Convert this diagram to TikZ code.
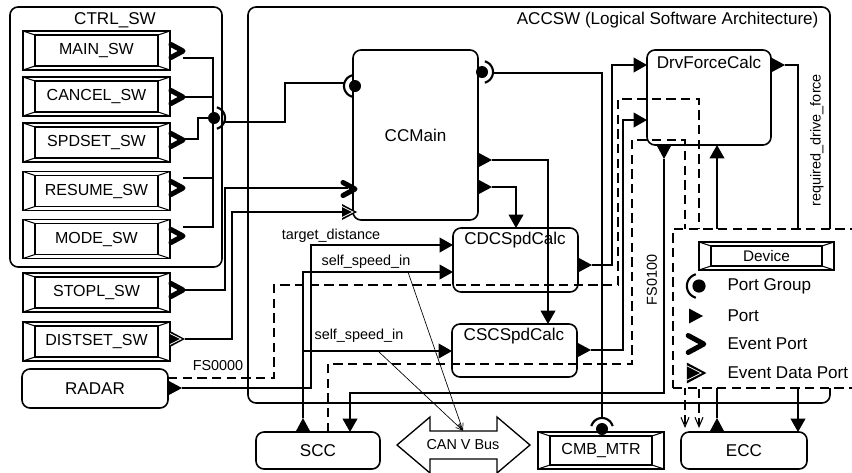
\documentclass[tikz,border=0pt]{standalone}
\usepackage{fontspec}
\setmainfont{Liberation Sans}
\usetikzlibrary{arrows.meta}
\newcommand{\bigf}{\fontsize{12.8}{14}\selectfont}
\newcommand{\devf}{\fontsize{12}{14}\selectfont}
\newcommand{\smallf}{\fontsize{10.8}{12}\selectfont}
\newcommand{\dvf}{\fontsize{11.5}{13}\selectfont}
\tikzset{
  ln/.style={line width=1.2pt},
  box/.style={draw, line width=1.2pt, rounded corners=6pt, inner sep=0pt, font=\bigf},
  devbox/.style={draw, line width=1.2pt, inner sep=0pt, font=\devf,
    path picture={
      \draw[line width=1.1pt] ([shift={(9pt,-3pt)}]path picture bounding box.north west) rectangle ([shift={(-9pt,3pt)}]path picture bounding box.south east);
      \draw[line width=0.8pt]
        (path picture bounding box.north west) -- ([shift={(9pt,-3pt)}]path picture bounding box.north west)
        (path picture bounding box.south west) -- ([shift={(9pt,3pt)}]path picture bounding box.south west)
        (path picture bounding box.north east) -- ([shift={(-9pt,-3pt)}]path picture bounding box.north east)
        (path picture bounding box.south east) -- ([shift={(-9pt,3pt)}]path picture bounding box.south east);
    }},
  swdev/.style={devbox, minimum width=110.25pt, minimum height=29.25pt},
  parr/.style={line width=1.2pt, -{Triangle[length=10pt,width=11pt]}},
  fsline/.style={line width=1.1pt, dash pattern=on 7pt off 4pt, -{Straight Barb[length=7pt,width=6pt,line width=0.8pt]}},
  thinarr/.style={line width=0.5pt, -{Straight Barb[length=5pt,width=4pt]}},
  lbl/.style={font=\smallf, inner sep=1pt},
  title/.style={font=\bigf, inner sep=1pt},
  portR/.pic={\fill (0,-7.5) -- (14,0) -- (0,7.5) -- cycle;},
  portD/.pic={\fill (-7.5,0) -- (0,14) -- (7.5,0) -- cycle;},
  portU/.pic={\fill (-7.5,0) -- (0,-14) -- (7.5,0) -- cycle;},
  evport/.pic={\draw[line width=3.8pt, line cap=round, line join=round] (-6,-6.5) -- (6,0) -- (-6,6.5);},
  edport/.pic={\fill (-7,-8) -- (8,0) -- (-7,8) -- cycle;
    \draw[white, line width=0.6pt] (-7,-5.5) -- (4,0) -- (-7,5.5);},
  pgL/.pic={\fill (0,0) circle[radius=4.5pt];
    \draw[line width=1.6pt, variable=\t, domain=105:255, samples=24] plot ({11*cos(\t)},{11*sin(\t)});},
  pgR/.pic={\fill (0,0) circle[radius=4.5pt];
    \draw[line width=1.6pt, variable=\t, domain=-75:75, samples=24] plot ({11*cos(\t)},{11*sin(\t)});},
  pgU/.pic={\fill (0,0) circle[radius=4.5pt];
    \draw[line width=1.6pt, variable=\t, domain=195:345, samples=24] plot ({11*cos(\t)},{11*sin(\t)});},
}
\begin{document}
\begin{tikzpicture}[x=0.75pt,y=-0.75pt]
\useasboundingbox (0,0) rectangle (852,472);
\clip (0,0) rectangle (852,472);

% ---------- containers ----------
\node[box, minimum width=159pt, minimum height=195pt] (ctrl) at (116,137) {};
\node[title] (ctrlt) at (115,20) {CTRL\_SW};
\node[box, minimum width=436.5pt, minimum height=297pt] (accsw) at (539,205) {};
\node[title, anchor=east] (accswt) at (820,20) {ACCSW (Logical Software Architecture)};

% ---------- devices ----------
\node[swdev] (mainsw) at (96.5,50.5) {MAIN\_SW};
\node[swdev] (cancelsw) at (96.5,96.5) {CANCEL\_SW};
\node[swdev] (spdsetsw) at (96.5,142.5) {SPDSET\_SW};
\node[swdev] (resumesw) at (96.5,191) {RESUME\_SW};
\node[swdev] (modesw) at (96.5,239) {MODE\_SW};
\node[swdev] (stoplsw) at (96.5,292.5) {STOPL\_SW};
\node[swdev] (distsetsw) at (96.5,341.5) {DISTSET\_SW};
\node[box, minimum width=109.5pt, minimum height=29.25pt] (radar) at (95,388.5) {RADAR};

% ---------- software components ----------
\node[box, minimum width=93.75pt, minimum height=127.5pt] (ccmain) at (415.5,135) {CCMain};
\node[box, minimum width=93.75pt, minimum height=48pt] (cdc) at (515.5,260) {};
\node[title] (cdct) at (515,240) {CDCSpdCalc};
\node[box, minimum width=93.75pt, minimum height=39.75pt] (csc) at (514.5,350.5) {};
\node[title] (csct) at (514,336) {CSCSpdCalc};
\node[box, minimum width=93pt, minimum height=71.25pt] (dfc) at (709,97.5) {};
\node[title] (dfct) at (709,62) {DrvForceCalc};

% ---------- external ----------
\node[box, minimum width=93pt, minimum height=27.75pt] (scc) at (318,450.5) {SCC};
\node[box, minimum width=94.5pt, minimum height=27.75pt] (ecc) at (744,450.5) {ECC};
\node[devbox, minimum width=94.5pt, minimum height=27.75pt] (cmb) at (601,450.5) {CMB\_MTR};
\draw[line width=1pt] (397,445) -- (430,417) -- (430,431) -- (497,431) -- (497,417) -- (530,445)
  -- (497,473) -- (497,459) -- (430,459) -- (430,473) -- cycle;
\node[font=\smallf, minimum width=50pt, minimum height=21pt, inner sep=0pt] (can) at (463,445) {CAN V Bus};

% ---------- switch bus ----------
\coordinate (pgsw) at (214,118);
\coordinate (pgcc) at (355,86);
\draw[ln] (183,58) -- (213,58) -- (213,227) -- (183,227);
\draw[ln] (183,97) -- (213,97);
\draw[ln] (183,178) -- (213,178);
\draw[ln] (184,139) -- (198,139) -- (198,118) -- (pgsw);
\draw[ln] (225,122) -- (285,122) -- (285,83) -- (344,83);
\draw[ln] (185,290) -- (225,290) -- (225,188) -- (348,188);
\draw[ln] (185,339) -- (232,339) -- (232,212) -- (345,212);

% ---------- data connectors ----------
\draw[parr] (182,388) -- (311,388) -- (311,245) -- (453,245);
\draw[parr] (303,418) -- (303,272) -- (453,272);
\draw[parr] (303,351) -- (452,351);
\draw[parr] (664,159) -- (664,393) -- (350,393) -- (350,432);
\draw[ln] (493,73) -- (602,73) -- (602,418);
\draw[parr] (492,160) -- (548,160) -- (548,324);
\draw[parr] (492,187) -- (516,187) -- (516,228);
\draw[parr] (592,265) -- (612,265) -- (612,65) -- (647,65);
\draw[parr] (591,350) -- (623,350) -- (623,120) -- (647,120);
\draw[parr] (785,65) -- (798,65) -- (798,432);
\draw[parr] (717,418) -- (717,145);

% ---------- functional sequences ----------
\draw[fsline] (168,378) -- (274,378) -- (274,285) -- (618,285) -- (618,99) -- (699,99) -- (699,428);
\draw[fsline] (328,432) -- (328,364) -- (632,364) -- (632,140) -- (685,140) -- (685,428);

% ---------- CAN bus links ----------
\draw[thinarr] (408,272) -- (can.north);
\draw[thinarr] (378,351) -- (can.north);

% ---------- labels ----------
\node[lbl] (ltd) at (331,236) {target\_distance};
\node[lbl] (lss1) at (366,262) {self\_speed\_in};
\node[lbl] (lss2) at (359,336) {self\_speed\_in};
\node[lbl] (lfs0) at (218,366) {FS0000};
\node[lbl, rotate=90] (lfs1) at (652,280) {FS0100};
\node[lbl, rotate=90] (lrdf) at (817,140) {required\_drive\_force};

% ---------- ports ----------
\pic at (177,51) {evport};
\pic at (177,97) {evport};
\pic at (177,140) {evport};
\pic at (177,188) {evport};
\pic at (177,236) {evport};
\pic at (177,290) {evport};
\pic at (177,339) {edport};
\pic at (168,388) {portR};
\pic at (pgsw) {pgR};
\pic at (pgcc) {pgL};
\pic at (482,72) {pgR};
\pic at (602,429) {pgU};
\pic at (349,189) {evport};
\pic at (349,212) {edport};
\pic at (478,160) {portR};
\pic at (478,187) {portR};
\pic at (578,265) {portR};
\pic at (577,350) {portR};
\pic at (771,65) {portR};
\pic at (664,145) {portD};
\pic at (303,432) {portU};
\pic at (717,432) {portU};

% ---------- legend ----------
\node[draw, fill=white, line width=1.1pt, dash pattern=on 7pt off 4pt, inner sep=0pt, minimum width=147.75pt, minimum height=119.25pt] (legend) at (771.5,308.5) {};
\node[devbox, font=\dvf, fill=white, minimum width=101.25pt, minimum height=21pt] (ldev) at (766.5,256) {Device};
\pic[scale=1.1] at (699,286) {pgL};
\node[title, anchor=west] (lpg) at (726,286) {Port Group};
\pic at (689,316) {portR};
\node[title, anchor=west] (lp) at (726,316) {Port};
\pic[scale=1.3] at (696,344) {evport};
\node[title, anchor=west] (lep) at (726,344) {Event Port};
\pic[scale=1.3] at (696,373) {edport};
\node[title, anchor=west] (ledp) at (726,373) {Event Data Port};
\end{tikzpicture}
\end{document}
